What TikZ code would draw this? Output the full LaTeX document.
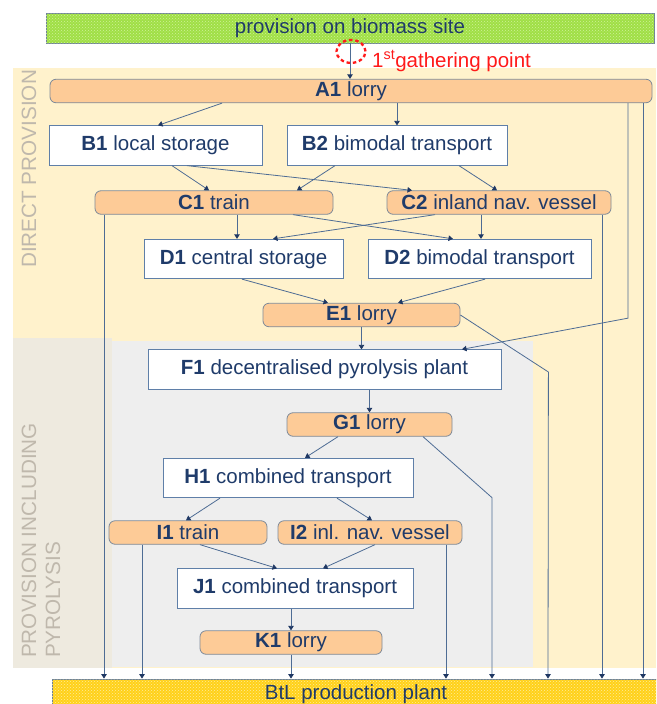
\documentclass[tikz,border=0pt]{standalone}
\usepackage{fontspec}
\setmainfont{Liberation Sans}
\usetikzlibrary{arrows.meta,calc,patterns}

\definecolor{navy}{HTML}{1F3B6A}
\definecolor{tipnavy}{HTML}{1F3864}
\definecolor{linkblue}{HTML}{4E6C94}
\definecolor{orangefill}{HTML}{FDCB97}
\definecolor{orangeedge}{HTML}{7E8A99}
\definecolor{boxedge}{HTML}{5F7FA8}
\definecolor{panelyellow}{HTML}{FFF2CC}
\definecolor{panelcol}{HTML}{EEEADF}
\definecolor{panelgray}{HTML}{EEEEEE}
\definecolor{sidegray}{HTML}{BFB8AC}
\definecolor{greenbar}{HTML}{A0DF46}
\definecolor{greendots}{HTML}{CFF29A}
\definecolor{goldbar}{HTML}{FFD11A}
\definecolor{golddots}{HTML}{FFEC99}
\definecolor{baredge}{HTML}{6E8296}
\definecolor{gatherred}{HTML}{FF1A1A}

\tikzset{
  txt/.style={font=\fontsize{20.5}{24}\selectfont, text=navy},
  lorrybox/.style={txt, draw=orangeedge, fill=orangefill, rounded corners=6pt,
    line width=0.8pt, inner sep=0pt, minimum height=23.5pt},
  storebox/.style={txt, draw=boxedge, fill=white, line width=0.8pt,
    inner sep=0pt, minimum height=39.5pt},
  greenstrip/.style={txt, draw=baredge, fill=greenbar, line width=0.8pt,
    inner sep=0pt, postaction={pattern=crosshatch dots, pattern color=greendots}},
  goldstrip/.style={txt, draw=baredge, fill=goldbar, line width=0.8pt,
    inner sep=0pt, postaction={pattern=crosshatch dots, pattern color=golddots}},
  sidelabel/.style={font=\fontsize{20.7}{24}\selectfont, text=sidegray,
    inner sep=0pt, rotate=90, anchor=base west},
  link/.style={draw=linkblue, line width=0.8pt},
  arr/.style={link, -{Triangle[length=4.5pt,width=5.5pt,color=tipnavy]}},
}

\begin{document}
\begin{tikzpicture}[x=1pt,y=-1pt]
\clip (0,0) rectangle (656,704);
\fill[white] (0,0) rectangle (656,704);

% background panels
\fill[panelyellow] (13,68) rectangle (656,668);
\fill[panelcol] (13,338) rectangle (112,668);
\fill[panelgray] (112,341) rectangle (533,667);

% panel captions (the base anchor of a two-line caption sits on its last line)
\node[sidelabel] (capA) at (36,268) {DIRECT PROVISION};
\node[sidelabel, align=left] (capB) at (60,658) {PROVISION INCLUDING\\PYROLYSIS};

% source and sink strips
\node[greenstrip, minimum width=608pt, minimum height=30pt] (src) at (350,28) {provision on biomass site};
\node[goldstrip, minimum width=608pt, minimum height=30pt] (BtL) at (356,694) {BtL production plant};

% process chain
\node[lorrybox, minimum width=602pt] (A1) at (351,91) {\textbf{A1} lorry};
\node[storebox, minimum width=213pt] (B1) at (155.5,145.5) {\textbf{B1} local storage};
\node[storebox, minimum width=220pt] (B2) at (397,145.5) {\textbf{B2} bimodal transport};
\node[lorrybox, minimum width=238pt] (C1) at (214,202.5) {\textbf{C1} train};
\node[lorrybox, minimum width=224pt] (C2) at (499,202.5) {\textbf{C2} inland nav. vessel};
\node[storebox, minimum width=199pt] (D1) at (243.5,259) {\textbf{D1} central storage};
\node[storebox, minimum width=223pt] (D2) at (479.5,259) {\textbf{D2} bimodal transport};
\node[lorrybox, minimum width=197pt] (E1) at (361.5,315) {\textbf{E1} lorry};
\node[storebox, minimum width=353pt] (F1) at (324.5,369.5) {\textbf{F1} decentralised pyrolysis plant};
\node[lorrybox, minimum width=165pt] (G1) at (369.5,424.5) {\textbf{G1} lorry};
\node[storebox, minimum width=250pt] (H1) at (288,478) {\textbf{H1} combined transport};
\node[lorrybox, minimum width=158pt] (I1) at (188,532.5) {\textbf{I1} train};
\node[lorrybox, minimum width=184pt] (I2) at (370,532.5) {\textbf{I2} inl. nav. vessel};
\node[storebox, minimum width=236pt] (J1) at (295,588.5) {\textbf{J1} combined transport};
\node[lorrybox, minimum width=182pt] (K1) at (291,642.5) {\textbf{K1} lorry};

% first gathering point
\draw[arr] (src.south) -- (src.south |- A1.north);
\draw[gatherred, line width=2.3pt, dash pattern=on 3.5pt off 2.8pt]
  ($(src.south)+(1,8)$) ellipse [x radius=14.5pt, y radius=11.5pt];
\node[font=\fontsize{20.5}{24}\selectfont, text=gatherred, inner sep=0pt, anchor=base west]
  (gp) at (372,67) {1\textsuperscript{st}gathering point};

% level A -> B
\draw[arr] ($(A1.south)+(-129,0)$) -- ($(B1.north)+(2.5,0)$);
\draw[arr] (A1.south -| B2.north) -- (B2.north);
\draw[arr] ($(A1.south)+(277,0)$) -- ++(0,215) -- ($(F1.north)+(137.5,0)$);
\draw[arr] ($(A1.south)+(292,0)$) -- ($(BtL.north)+(287,0)$);

% level B -> C
\draw[arr] ($(B1.south)+(16.5,0)$) -- ($(C1.north)+(-5,0)$);
\draw[arr] ($(B1.south)+(31.5,0)$) -- ($(C2.north)+(-87,0)$);
\draw[arr] ($(B2.south)+(-62,0)$) -- ($(C1.north)+(83,0)$);
\draw[arr] ($(B2.south)+(62,0)$) -- ($(C2.north)+(-2,0)$);

% level C -> D
\draw[arr] ($(C1.south)+(23,0)$) -- ($(D1.north)+(-6.5,0)$);
\draw[arr] ($(C1.south)+(79,0)$) -- ($(D2.north)+(-26.5,0)$);
\draw[arr] ($(C2.south)+(-64,0)$) -- ($(D1.north)+(29.5,0)$);
\draw[arr] ($(C2.south)+(-18,0)$) -- ($(D2.north)+(1.5,0)$);
\draw[arr] ($(C1.south)+(-110,0)$) -- ($(BtL.north)+(-252,0)$);
\draw[arr] ($(C2.south)+(103,0)$) -- ($(BtL.north)+(246,0)$);

% level D -> E
\draw[arr] ($(D1.south)+(-1.5,0)$) -- ($(E1.north)+(-33.5,0)$);
\draw[arr] ($(D2.south)+(5.5,0)$) -- ($(E1.north)+(36.5,0)$);

% level E -> F
\draw[arr] (E1.south) -- (E1.south |- F1.north);
\draw[arr] (E1.east) -- ++(88,57) -- ($(BtL.north)+(192,0)$);

% level F -> G -> H
\draw[arr] (F1.south -| G1.north) -- (G1.north);
\draw[arr] ($(G1.south)+(-31.5,0)$) -- ($(H1.north)+(17,0)$);
\draw[arr] ($(G1.south)+(53.5,0)$) -- ++(69,61) -- ($(BtL.north)+(136,0)$);

% level H -> I
\draw[arr] ($(H1.south)+(-68,0)$) -- ($(I1.north)+(-2,0)$);
\draw[arr] ($(H1.south)+(49,0)$) -- ($(I2.north)+(2,0)$);

% level I -> J
\draw[arr] ($(I1.south)+(12,0)$) -- ($(J1.north)+(-18,0)$);
\draw[arr] ($(I2.south)+(5,0)$) -- ($(J1.north)+(28,0)$);
\draw[arr] ($(I1.south)+(-46,0)$) -- ($(BtL.north)+(-214,0)$);
\draw[arr] ($(I2.south)+(76,0)$) -- ($(BtL.north)+(90,0)$);

% level J -> K -> plant
\draw[arr] (J1.south -| K1.north) -- (K1.north);
\draw[arr] (K1.south) -- (K1.south |- BtL.north);
\end{tikzpicture}
\end{document}
